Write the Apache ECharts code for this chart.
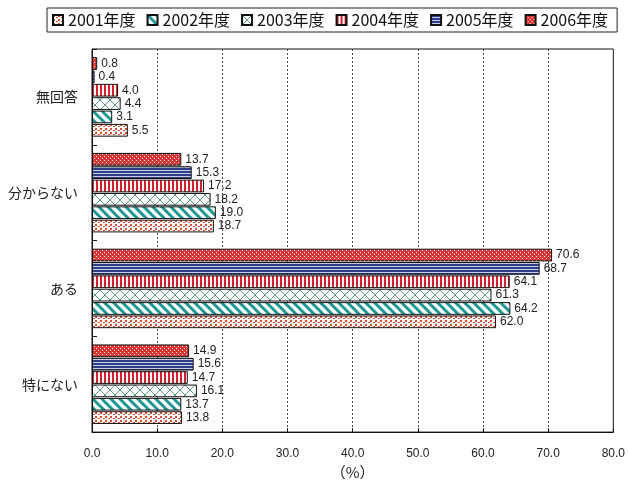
<!DOCTYPE html>
<html>
<head>
<meta charset="utf-8">
<script src="https://cdn.jsdelivr.net/npm/echarts@6/dist/echarts.min.js"></script>
<style>
  html, body { margin: 0; padding: 0; background: #fff; }
  #chart { width: 628px; height: 485px; }
</style>
</head>
<body>
<div id="chart"></div>
<script>
// categories, top to bottom
const categories = ['無回答', '分からない', 'ある', '特にない'];
const seriesNames = ['2001年度', '2002年度', '2003年度', '2004年度', '2005年度', '2006年度'];

// values in % per year, same order as categories
const fy2001 = [5.5, 18.7, 62.0, 13.8];
const fy2002 = [3.1, 19.0, 64.2, 13.7];
const fy2003 = [4.4, 18.2, 61.3, 16.1];
const fy2004 = [4.0, 17.2, 64.1, 14.7];
const fy2005 = [0.4, 15.3, 68.7, 15.6];
const fy2006 = [0.8, 13.7, 70.6, 14.9];

const xTicks = [0, 10, 20, 30, 40, 50, 60, 70, 80];

// small canvas tiles used as fill patterns
function tile(w, h, draw) {
  const c = document.createElement('canvas');
  c.width = w;
  c.height = h;
  const ctx = c.getContext('2d');
  ctx.fillStyle = '#fff';
  ctx.fillRect(0, 0, w, h);
  draw(ctx);
  return { image: c, repeat: 'repeat' };
}

const patterns = [
  // 2001: red-orange dots
  tile(5, 4, (ctx) => {
    ctx.fillStyle = '#d8502e';
    ctx.fillRect(0, 0, 2, 2);
    ctx.fillRect(3, 2, 2, 1);
  }),
  // 2002: teal diagonal stripes
  tile(9, 9, (ctx) => {
    ctx.strokeStyle = '#1e9692';
    ctx.lineWidth = 3;
    ctx.beginPath();
    for (let k = -9; k <= 18; k += 9) {
      ctx.moveTo(k - 2, -2);
      ctx.lineTo(k + 11, 11);
    }
    ctx.stroke();
  }),
  // 2003: green lattice
  tile(10, 10, (ctx) => {
    ctx.strokeStyle = '#5e9a7c';
    ctx.lineWidth = 1;
    ctx.beginPath();
    ctx.moveTo(0, 0); ctx.lineTo(10, 10);
    ctx.moveTo(10, 0); ctx.lineTo(0, 10);
    ctx.stroke();
  }),
  // 2004: red vertical stripes
  tile(4, 4, (ctx) => {
    ctx.fillStyle = '#d4202c';
    ctx.fillRect(0, 0, 2, 4);
  }),
  // 2005: navy horizontal lines
  tile(4, 3, (ctx) => {
    ctx.fillStyle = '#c9cde6';
    ctx.fillRect(0, 0, 4, 3);
    ctx.fillStyle = '#2e3c8a';
    ctx.fillRect(0, 0, 4, 2);
  }),
  // 2006: red checker
  tile(4, 4, (ctx) => {
    ctx.fillStyle = '#e03434';
    ctx.fillRect(0, 0, 4, 4);
    ctx.fillStyle = '#fff';
    ctx.fillRect(0, 0, 1, 1);
    ctx.fillRect(2, 2, 1, 1);
  }),
];

const allData = [fy2001, fy2002, fy2003, fy2004, fy2005, fy2006];

const chart = echarts.init(document.getElementById('chart'), null, { renderer: 'canvas' });

// built newest first so 2006 sits at the top of each group
const series = seriesNames.map((name, i) => ({
  name,
  type: 'bar',
  data: allData[i],
  barCategoryGap: '17%',
  barGap: '5%',
  itemStyle: {
    color: patterns[i],
    borderColor: '#111',
    borderWidth: 1,
  },
  label: {
    show: true,
    position: 'right',
    distance: 4,
    color: '#222',
    fontSize: 12,
    fontFamily: 'Liberation Sans',
    formatter: (p) => p.value.toFixed(1),
  },
})).reverse();

chart.setOption({
  animation: false,
  legend: {
    data: seriesNames,
    left: 47,
    top: 8,
    padding: [4, 9, 4, 5],
    itemWidth: 10,
    itemHeight: 10,
    itemGap: 11,
    borderColor: '#222',
    borderWidth: 1,
    icon: 'rect',
    textStyle: {
      color: '#111',
      fontSize: 16,
      fontFamily: 'Noto Sans CJK JP',
    },
  },
  grid: {
    left: 92,
    right: 14,
    top: 49,
    bottom: 48,
    show: true,
    borderColor: '#111',
    borderWidth: 1,
  },
  xAxis: {
    type: 'value',
    min: 0,
    max: 80,
    interval: 10,
    name: '（%）',
    nameLocation: 'middle',
    nameGap: 32,
    nameTextStyle: { color: '#222', fontSize: 15, fontFamily: 'Noto Sans CJK JP' },
    axisLine: { show: true, lineStyle: { color: '#111' } },
    axisTick: { show: true, inside: true, length: 4, lineStyle: { color: '#111' } },
    axisLabel: {
      color: '#222',
      fontSize: 12,
      fontFamily: 'Liberation Sans',
      margin: 16,
      formatter: (v) => (xTicks.includes(v) ? v.toFixed(1) : ''),
    },
    splitLine: { show: true, lineStyle: { color: '#444', type: [2, 2], width: 1 } },
  },
  yAxis: {
    type: 'category',
    data: categories,
    inverse: true,
    axisLine: { show: true, lineStyle: { color: '#111' } },
    axisTick: { show: true, inside: true, length: 5, lineStyle: { color: '#111' } },
    axisLabel: {
      color: '#222',
      fontSize: 14,
      fontFamily: 'Noto Sans CJK JP',
      margin: 14,
    },
  },
  series,
});
</script>
</body>
</html>
